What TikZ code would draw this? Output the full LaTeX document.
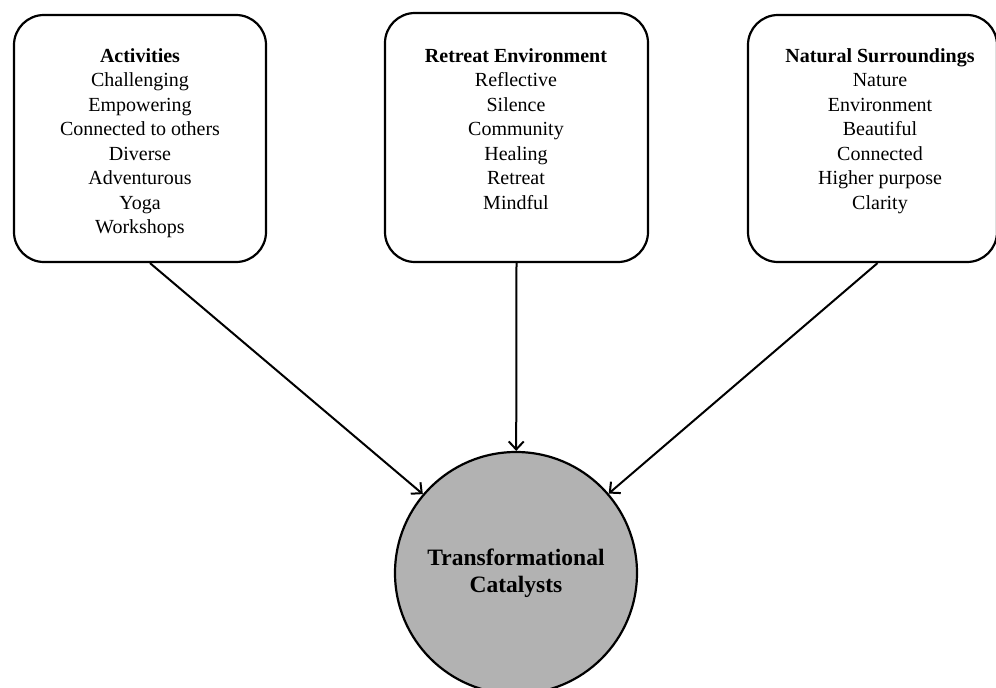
\documentclass[tikz,border=0pt]{standalone}
\usepackage{fontspec}
\setmainfont{Liberation Serif}
\usetikzlibrary{arrows.meta}

\tikzset{
  box/.style={draw, line width=2.2pt, rounded corners=30pt},
  txt/.style={anchor=north, align=center, inner sep=0pt,
    font=\fontsize{20}{24.5}\selectfont},
  hub/.style={circle, draw, line width=2.2pt, fill=black!30, align=center,
    minimum size=242pt, inner sep=0pt, font=\bfseries\fontsize{23.5}{27}\selectfont},
  arr/.style={line width=2pt, -{Straight Barb[length=8pt,width=15pt]}}
}

\begin{document}
\begin{tikzpicture}[x=1pt, y=-1pt]
  \useasboundingbox (0,0) rectangle (996,688);

  % Boxes
  \node[box, minimum width=252pt, minimum height=247pt] (act) at (140,138.5) {};
  \node[box, minimum width=263pt, minimum height=249pt] (ret) at (516.5,137.5) {};
  \node[box, minimum width=249pt, minimum height=247pt] (nat) at (872.5,138.5) {};

  \node[txt] (actt) at (140,48) {\textbf{Activities}\\Challenging\\Empowering\\Connected to others\\Diverse\\Adventurous\\Yoga\\Workshops};
  \node[txt] (rett) at (516,48) {\textbf{Retreat Environment}\\Reflective\\Silence\\Community\\Healing\\Retreat\\Mindful};
  \node[txt] (natt) at (880,48) {\textbf{Natural Surroundings}\\Nature\\Environment\\Beautiful\\Connected\\Higher purpose\\Clarity};

  \node[hub] (cat) at (516,573) {Transformational\\Catalysts};

  \draw[arr] ([xshift=10pt]act.south) -- (cat);
  \draw[arr] (ret.south) -- (cat);
  \draw[arr] ([xshift=5pt]nat.south) -- (cat);
\end{tikzpicture}
\end{document}
